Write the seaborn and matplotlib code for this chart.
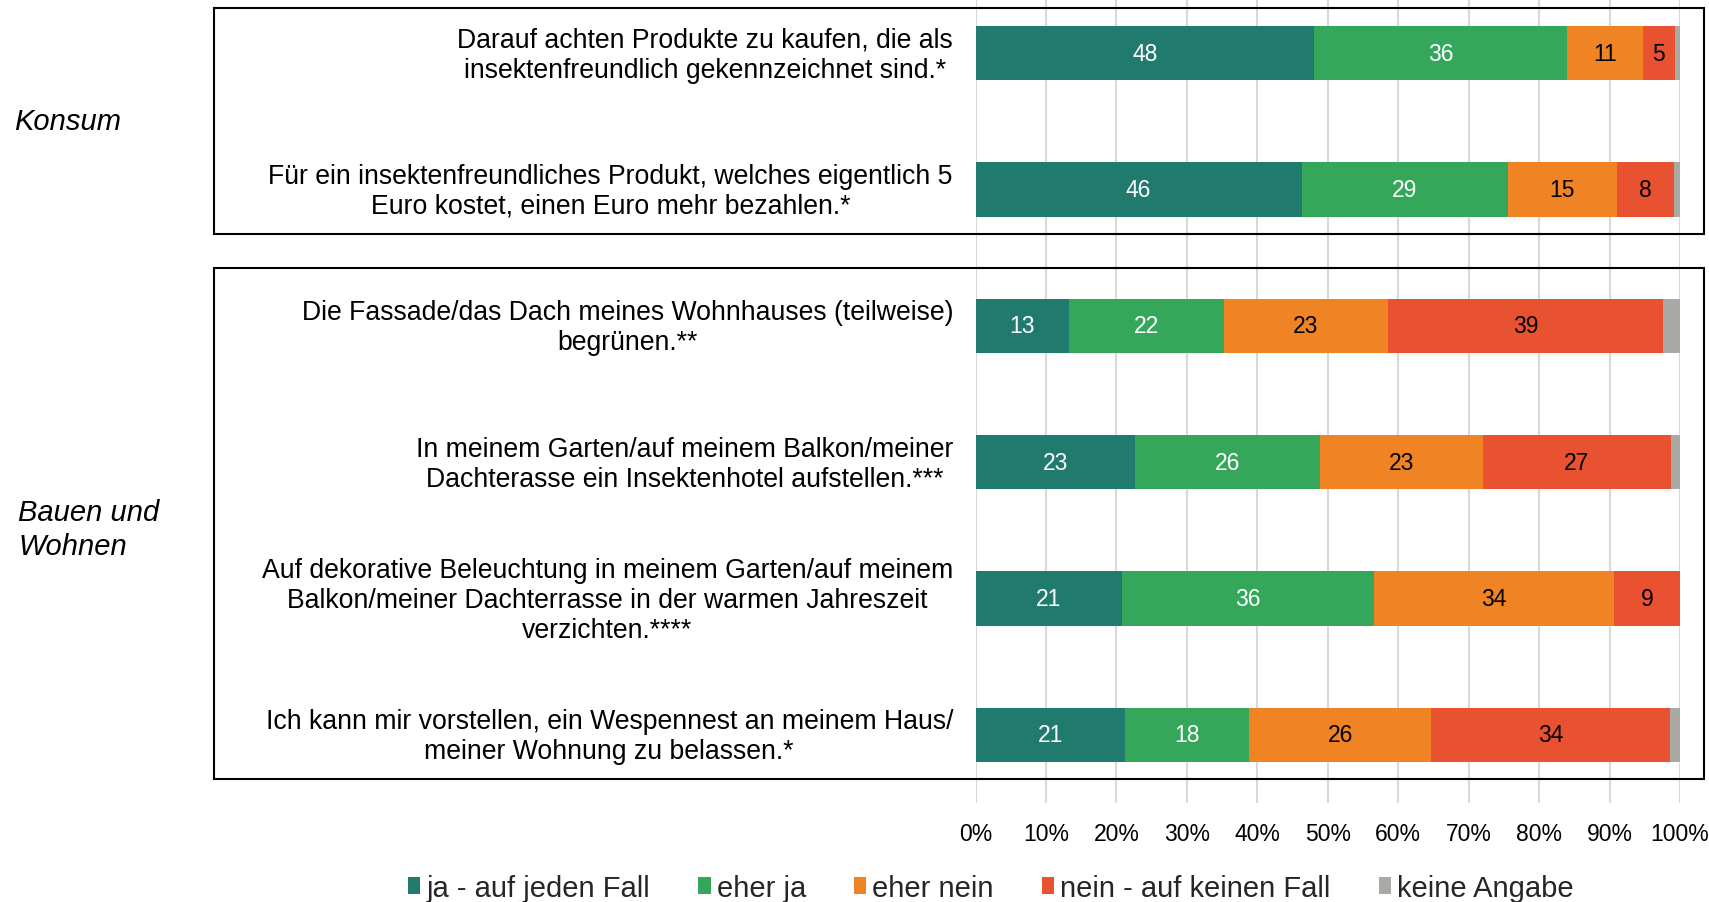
import matplotlib
matplotlib.use("Agg")
import matplotlib.pyplot as plt
from matplotlib.patches import Rectangle, Patch
import numpy as np
import pandas as pd
import seaborn as sns

# Survey statements (as displayed)
questions = [
    "Darauf achten Produkte zu kaufen, die als\ninsektenfreundlich gekennzeichnet sind.*",
    "Für ein insektenfreundliches Produkt, welches eigentlich 5\nEuro kostet, einen Euro mehr bezahlen.*",
    "Die Fassade/das Dach meines Wohnhauses (teilweise)\nbegrünen.**",
    "In meinem Garten/auf meinem Balkon/meiner\nDachterasse ein Insektenhotel aufstellen.***",
    "Auf dekorative Beleuchtung in meinem Garten/auf meinem\nBalkon/meiner Dachterrasse in der warmen Jahreszeit\nverzichten.****",
    "Ich kann mir vorstellen, ein Wespennest an meinem Haus/\nmeiner Wohnung zu belassen.*",
]
groups = ["Konsum", "Bauen und\nWohnen"]

answers = ["ja - auf jeden Fall", "eher ja", "eher nein",
           "nein - auf keinen Fall", "keine Angabe"]

# Shares in percent per answer category
ja_auf_jeden_fall = [48.1, 46.3, 13.3, 22.6, 20.8, 21.2]
eher_ja = [35.9, 29.3, 22.0, 26.3, 35.8, 17.6]
eher_nein = [10.7, 15.4, 23.2, 23.1, 34.0, 25.9]
nein_auf_keinen_fall = [4.6, 8.2, 39.1, 26.7, 9.4, 33.9]
keine_angabe = [0.7, 0.8, 2.4, 1.3, 0.0, 1.4]

colors = ["#217A6E", "#34A75B", "#F08424", "#E85231", "#A9A9A5"]
label_colors = ["white", "white", "black", "black", None]

df = pd.DataFrame({
    "Frage": questions,
    answers[0]: ja_auf_jeden_fall,
    answers[1]: eher_ja,
    answers[2]: eher_nein,
    answers[3]: nein_auf_keinen_fall,
    answers[4]: keine_angabe,
})

sns.set_theme(style="white")
plt.rcParams["font.family"] = ["Liberation Sans", "DejaVu Sans"]

W, H, DPI = 1709, 903, 100
fig = plt.figure(figsize=(W / DPI, H / DPI), dpi=DPI)

ax_left, ax_right = 975.5 / W, 1680 / W
ax_bottom = 1 - 804 / H
ax = fig.add_axes([ax_left, ax_bottom, ax_right - ax_left, 1 - ax_bottom])

# Stacked bars: draw cumulative totals from the back to the front
cum = df[answers].cumsum(axis=1)
for i in reversed(range(len(answers))):
    sns.barplot(x=cum[answers[i]], y=df["Frage"], orient="h", color=colors[i],
                saturation=1, width=0.4, ax=ax, linewidth=0)

# Value labels in the middle of each segment
for r in range(len(questions)):
    start = 0.0
    for i, a in enumerate(answers):
        v = df.loc[r, a]
        if label_colors[i] is not None and v > 0:
            ax.text(start + v / 2, r, f"{v:.0f}", ha="center", va="center",
                    fontsize=16.5, color=label_colors[i])
        start += v

ax.set_xlim(0, 100)
ax.set_ylim(5.5, -0.5 + 14 / 136.3)
ax.set_xticks(np.arange(0, 101, 10))
ax.set_xticklabels([f"{t}%" for t in range(0, 101, 10)], fontsize=16.5)
ax.tick_params(axis="x", length=0, pad=14, colors="black")
ax.set_yticks([])
ax.set_xlabel("")
ax.set_ylabel("")
ax.grid(axis="x", color="#D9D9D9", linewidth=1.5)
ax.grid(axis="y", visible=False)
ax.set_axisbelow(True)
for s in ax.spines.values():
    s.set_visible(False)

# Statement texts to the left of the bars
trans = matplotlib.transforms.blended_transform_factory(fig.transFigure, ax.transData)
for r, q in enumerate(questions):
    ax.text(953 / W, r + 0.01, q, transform=trans, ha="right", va="center",
            multialignment="center", fontsize=19.2, color="black", linespacing=1.2)

# Group titles
fig.text(14 / W, 1 - 122 / H, groups[0], ha="left", va="center",
         fontsize=21, style="italic", color="black")
fig.text(18 / W, 1 - 530 / H, groups[1], ha="left", va="center",
         fontsize=21, style="italic", color="black", linespacing=1.3)

# Frames around the two groups
for top, bottom in [(8.7, 235), (269, 780)]:
    fig.add_artist(Rectangle((213.6 / W, 1 - bottom / H), (1704 - 213.6) / W,
                             (bottom - top) / H, transform=fig.transFigure,
                             fill=False, edgecolor="black", linewidth=1.5))

# Legend
handles = [Patch(facecolor=c, edgecolor="none") for c in colors]
fig.legend(handles, answers, loc="center", bbox_to_anchor=(991 / W, 1 - 889 / H),
           ncol=5, frameon=False, fontsize=21, handlelength=0.42, handleheight=0.5,
           handletextpad=0.2, columnspacing=1.66, borderpad=0, borderaxespad=0)

fig.savefig("out.png", dpi=DPI, facecolor="white")
